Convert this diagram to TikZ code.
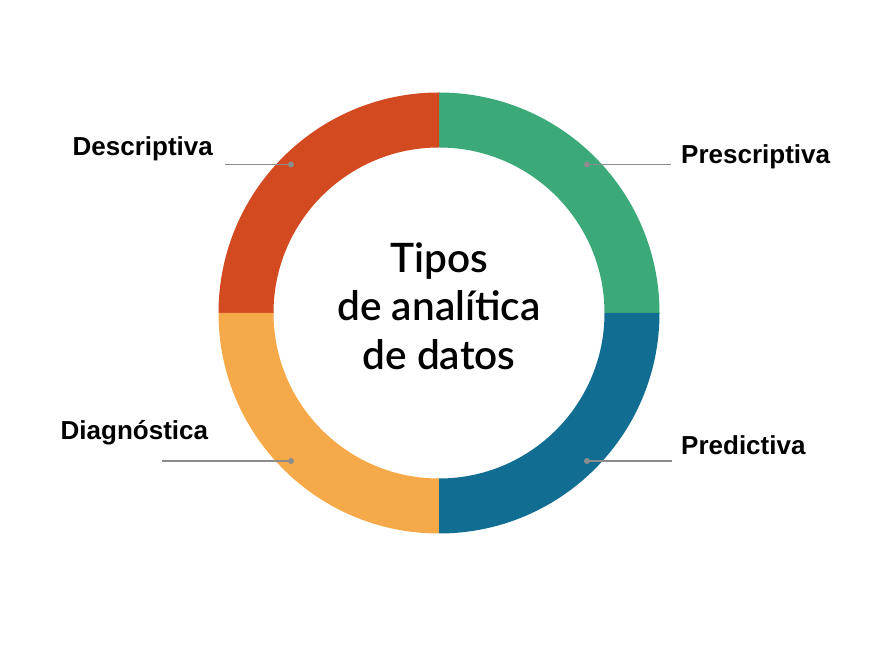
\documentclass[tikz,border=0pt]{standalone}
\usepackage{fontspec}
\setmainfont{Liberation Sans}
\newfontfamily\latofont{Lato Semibold}
\usetikzlibrary{calc}
\definecolor{cRed}{RGB}{211,74,32}
\definecolor{cGreen}{RGB}{60,170,120}
\definecolor{cBlue}{RGB}{17,110,146}
\definecolor{cOrange}{RGB}{245,169,72}
\definecolor{cLine}{RGB}{140,140,140}
\tikzset{
  lbl/.style={anchor=base west, inner sep=0pt, font=\fontsize{26}{31}\selectfont\bfseries},
  ttl/.style={anchor=base, inner sep=0pt, font=\latofont\fontsize{40.5}{48}\selectfont},
  leader/.style={draw=cLine, line width=1.5pt},
  dotm/.style={circle, fill=cLine, inner sep=0pt, minimum size=6pt},
}
\begin{document}
\begin{tikzpicture}[x=1pt,y=1pt]
\useasboundingbox (0,0) rectangle (881,658);
\fill[white] (0,0) rectangle (881,658);
\coordinate (c) at (439,345);
\def\Ro{220.5}
\def\Ri{165.5}
% ring segments
\fill[cGreen] ($(c)+(0:\Ro)$) arc[start angle=0,end angle=90,radius=\Ro] -- ($(c)+(90:\Ri)$) arc[start angle=90,end angle=0,radius=\Ri] -- cycle;
\fill[cRed] ($(c)+(90:\Ro)$) arc[start angle=90,end angle=180,radius=\Ro] -- ($(c)+(180:\Ri)$) arc[start angle=180,end angle=90,radius=\Ri] -- cycle;
\fill[cOrange] ($(c)+(180:\Ro)$) arc[start angle=180,end angle=270,radius=\Ro] -- ($(c)+(270:\Ri)$) arc[start angle=270,end angle=180,radius=\Ri] -- cycle;
\fill[cBlue] ($(c)+(270:\Ro)$) arc[start angle=270,end angle=360,radius=\Ro] -- ($(c)+(360:\Ri)$) arc[start angle=360,end angle=270,radius=\Ri] -- cycle;
% centre title
\node[ttl] (t1) at (439,385.3) {Tipos};
\node[ttl] (t2) at (439,337.3) {de analítica};
\node[ttl] (t3) at (439,288.7) {de datos};
% labels
\node[lbl] (desc) at (72.5,502) {Descriptiva};
\node[lbl] (pres) at (681,494.7) {Prescriptiva};
\node[lbl] (diag) at (60.5,218) {Diagnóstica};
\node[lbl] (pred) at (681,203) {Predictiva};
% dots and leader ends
\node[dotm] (dDesc) at (291,493.5) {};
\node[dotm] (dPres) at (587,493.5) {};
\node[dotm] (dDiag) at (291,197) {};
\node[dotm] (dPred) at (587,197) {};
\coordinate (eDesc) at (225,493.5);
\coordinate (ePres) at (671,493.5);
\coordinate (eDiag) at (162,197);
\coordinate (ePred) at (672,197);
\draw[leader] (eDesc) -- (dDesc.center);
\draw[leader] (dPres.center) -- (ePres);
\draw[leader] (eDiag) -- (dDiag.center);
\draw[leader] (dPred.center) -- (ePred);
\end{tikzpicture}
\end{document}
